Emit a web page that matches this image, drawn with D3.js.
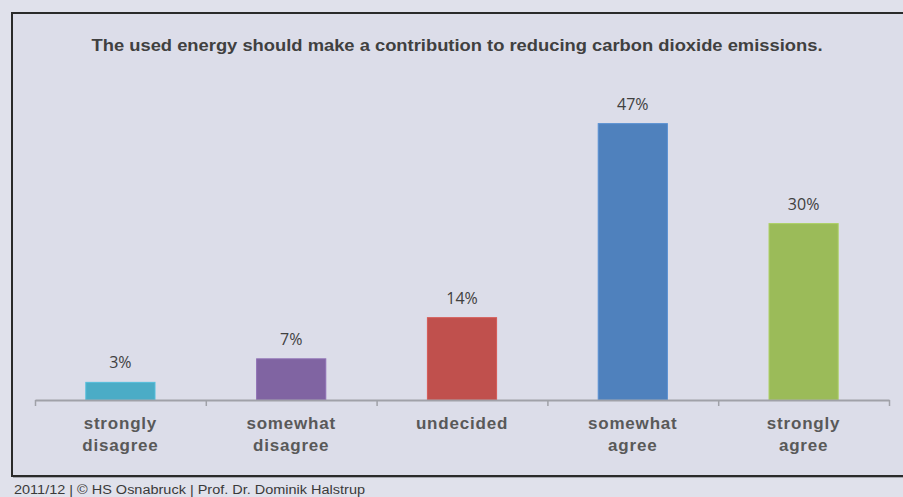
<!DOCTYPE html>
<html>
<head>
<meta charset="utf-8">
<script src="https://cdn.jsdelivr.net/npm/d3@7"></script>
<style>
html,body{margin:0;padding:0;background:#e0e1eb;}
svg{display:block;}
</style>
</head>
<body>
<svg id="chart" width="903" height="497"></svg>
<script>
const categories = ["strongly disagree","somewhat disagree","undecided","somewhat agree","strongly agree"];
const categoryLines = [["strongly","disagree"],["somewhat","disagree"],["undecided"],["somewhat","agree"],["strongly","agree"]];
const values = [3,7,14,47,30];
const valueLabels = ["3%","7%","14%","47%","30%"];
const colors = ["#4bacc6","#8064a2","#c0504d","#4f81bd","#9bbb59"];
const title = "The used energy should make a contribution to reducing carbon dioxide emissions.";
const footer = "2011/12 | \u00a9 HS Osnabruck | Prof. Dr. Dominik Halstrup";

const svg = d3.select("#chart");
const W = 903, H = 497;

// frame
svg.append("rect").attr("x",0).attr("y",0).attr("width",W).attr("height",H).attr("fill","#e0e1eb");
svg.append("rect").attr("x",12).attr("y",13).attr("width",W).attr("height",463)
  .attr("fill","#dcdde9").attr("stroke","#2a2a2a").attr("stroke-width",2);
svg.append("line").attr("x1",13).attr("x2",W).attr("y1",477.5).attr("y2",477.5).attr("stroke","#a6a7b0").attr("stroke-width",1);

const x = d3.scaleBand().domain(categories).range([35,889]).paddingInner(0.595).paddingOuter(0.2975);
const y = d3.scaleLinear().domain([0,50]).range([400,106]);

// title
svg.append("text").attr("x",457).attr("y",50.5).attr("text-anchor","middle")
  .attr("font-family","Liberation Sans, Arial, sans-serif").attr("font-weight","bold")
  .attr("font-size",17).attr("fill","#404040")
  .attr("textLength",731).attr("lengthAdjust","spacingAndGlyphs")
  .text(title);

// bars
svg.selectAll("rect.bar").data(values).join("rect").attr("class","bar")
  .attr("x",(d,i)=>x(categories[i])).attr("width",x.bandwidth())
  .attr("y",d=>y(d)).attr("height",d=>y(0)-y(d))
  .attr("fill",(d,i)=>colors[i])
  .attr("stroke",(d,i)=>d3.color(colors[i]).brighter(0.3)).attr("stroke-width",1);

// value labels
svg.selectAll("text.val").data(values).join("text").attr("class","val")
  .attr("x",(d,i)=>x(categories[i])+x.bandwidth()/2)
  .attr("y",d=>y(d)-14).attr("text-anchor","middle")
  .attr("font-family","Open Sans, Liberation Sans, sans-serif").attr("font-size",16)
  .attr("fill","#404040").text((d,i)=>valueLabels[i]);

// axis
const xAxisBoundary = d3.scaleLinear().domain([0,categories.length]).range([35,889]);
const axisG = svg.append("g").attr("transform","translate(0,400)");
axisG.call(d3.axisBottom(xAxisBoundary).tickValues(d3.range(0,categories.length+1)).tickFormat("").tickSize(6).tickSizeOuter(0));
axisG.select(".domain").attr("stroke","#a0a1a8").attr("stroke-width",2);
axisG.selectAll(".tick line").attr("stroke","#a0a1a8").attr("stroke-width",1.5);

// category labels
categories.forEach((c,i)=>{
  const cx = x(c)+x.bandwidth()/2;
  const t = svg.append("text").attr("x",cx).attr("y",429).attr("text-anchor","middle")
    .attr("font-family","Liberation Sans, Arial, sans-serif").attr("font-weight","bold")
    .attr("font-size",17).attr("fill","#595959").attr("letter-spacing",0.8);
  categoryLines[i].forEach((ln,j)=>{
    t.append("tspan").attr("x",cx).attr("dy",j===0?0:22).text(ln);
  });
});

// footer
svg.append("text").attr("x",14).attr("y",494)
  .attr("font-family","Liberation Sans, Arial, sans-serif").attr("font-size",12.5)
  .attr("fill","#3a3a3a").attr("textLength",351).attr("lengthAdjust","spacingAndGlyphs")
  .text(footer);
</script>
</body>
</html>
